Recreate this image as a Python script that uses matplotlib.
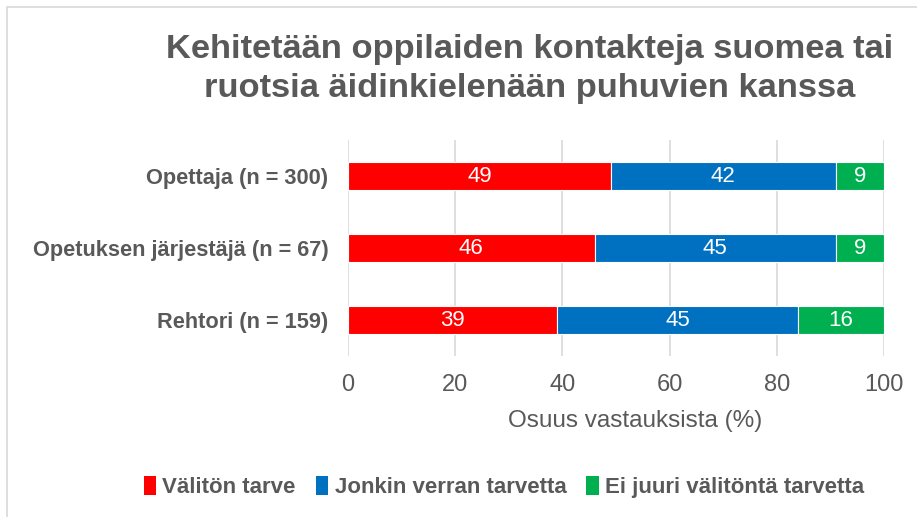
import numpy as np
import matplotlib
matplotlib.use("Agg")
import matplotlib.pyplot as plt
from matplotlib.patches import Patch, Rectangle

plt.rcParams['font.family'] = ['Liberation Sans', 'DejaVu Sans']

# data
categories = ['Opettaja (n = 300)', 'Opetuksen järjestäjä (n = 67)', 'Rehtori (n = 159)']
series_names = ['Välitön tarve', 'Jonkin verran tarvetta', 'Ei juuri välitöntä tarvetta']
valiton = [49, 46, 39]
jonkin = [42, 45, 45]
ei_juuri = [9, 9, 16]
colors = ['#ff0000', '#0070c0', '#00b050']
xticks = [0, 20, 40, 60, 80, 100]

grey = '#595959'

W, H = 917, 517
fig = plt.figure(figsize=(W / 100, H / 100), dpi=100)
ax = fig.add_axes([348 / W, 1 - 356 / H, (884 - 348) / W, (356 - 140) / H])

# light frame around the chart area
fig.patches.append(Rectangle((7 / W, -0.1), 1.2, (1 - 7 / H) + 0.1, transform=fig.transFigure,
                             fill=False, edgecolor='#d9d9d9', linewidth=1.2, zorder=0))

y = np.arange(len(categories))
left = np.zeros(len(categories))
for vals, name, col in zip([valiton, jonkin, ei_juuri], series_names, colors):
    bars = ax.barh(y, vals, left=left, height=0.39, color=col, edgecolor='white',
                   linewidth=0.8, label=name, zorder=3)
    ax.bar_label(bars, labels=[str(v) for v in vals], label_type='center',
                 color='white', fontsize=16)
    left += np.array(vals)

ax.set_ylim(2.5, -0.5)
ax.set_xlim(0, 100)
ax.set_yticks(y)
ax.set_yticklabels(categories, fontsize=15.7, fontweight='bold', color=grey)
ax.set_xticks(xticks)
ax.set_xticklabels([str(t) for t in xticks], fontsize=17, color=grey)
ax.tick_params(axis='both', length=0)
ax.tick_params(axis='y', pad=14)
ax.tick_params(axis='x', pad=13)
ax.grid(axis='x', color='#d9d9d9', linewidth=1.2, zorder=0)
for s in ax.spines.values():
    s.set_visible(False)

# axis title sits a bit right of the plot centre, as in the original
fig.text(635 / W, 1 - 421 / H, 'Osuus vastauksista (%)', ha='center', va='center',
         fontsize=17.5, color=grey)

fig.text(530 / W, 1 - 69 / H, 'Kehitetään oppilaiden kontakteja suomea tai\nruotsia äidinkielenään puhuvien kanssa',
         ha='center', va='center', fontsize=24.8, fontweight='bold', color=grey, linespacing=1.32)

handles = [Patch(facecolor=c, edgecolor='none') for c in colors]
leg = fig.legend(handles, series_names, loc='center', bbox_to_anchor=(504 / W, 1 - 487 / H),
                 ncol=3, frameon=False, handlelength=0.55, handleheight=0.9, handletextpad=0.3,
                 columnspacing=0.9, prop={'size': 16, 'weight': 'bold'})
for t in leg.get_texts():
    t.set_color(grey)

fig.savefig('out.png', dpi=100)
